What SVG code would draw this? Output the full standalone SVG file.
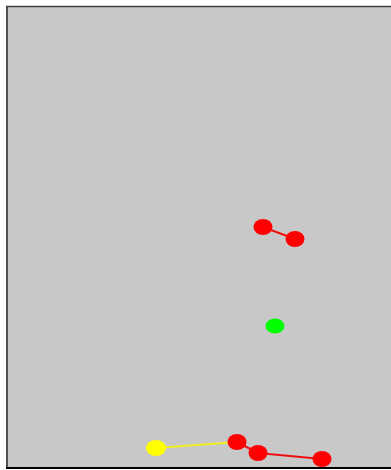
<svg xmlns="http://www.w3.org/2000/svg" width="391" height="470" viewBox="0 0 391 470">
<style>
.red{fill:#ff0000}
.ln{stroke-width:2;fill:none}
</style>
<rect x="0" y="0" width="391" height="470" fill="#ffffff"/>
<rect x="7" y="7" width="384" height="460" fill="#c8c8c8"/>
<line x1="7" y1="6" x2="7" y2="467" stroke="#505050" stroke-width="2"/>
<line x1="6" y1="6.5" x2="391" y2="6.5" stroke="#404040" stroke-width="1.5"/>
<line x1="6" y1="468" x2="391" y2="468" stroke="#000000" stroke-width="2"/>
<g id="connectors">
<line class="ln" x1="263" y1="227" x2="295" y2="239" stroke="#ee1111"/>
<line class="ln" x1="156" y1="448" x2="237" y2="442" stroke="#eeee22"/>
<line class="ln" x1="237" y1="442" x2="258" y2="453" stroke="#ee1111"/>
<line class="ln" x1="258" y1="453" x2="322" y2="459" stroke="#ee1111"/>
</g>
<g id="n1"><ellipse class="red" cx="263" cy="227" rx="9.5" ry="8"/></g>
<g id="n2"><ellipse class="red" cx="295" cy="239" rx="9.5" ry="8"/></g>
<g id="n3"><ellipse cx="275" cy="326" rx="9.5" ry="7.5" fill="#00ff00"/></g>
<g id="n4"><ellipse cx="156" cy="448" rx="10" ry="8" fill="#ffff00"/></g>
<g id="n5"><ellipse class="red" cx="237" cy="442" rx="9.5" ry="8"/></g>
<g id="n6"><ellipse class="red" cx="258" cy="453" rx="9.5" ry="8"/></g>
<g id="n7"><ellipse class="red" cx="322" cy="459" rx="9.5" ry="8"/></g>
</svg>
